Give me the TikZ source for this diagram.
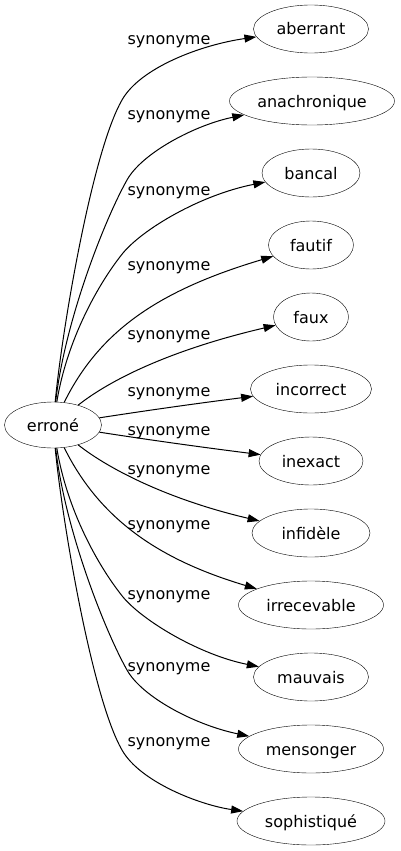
\documentclass[tikz,border=0pt]{standalone}
\usepackage{fontspec}
\setmainfont{DejaVu Sans}
\usetikzlibrary{arrows.meta, shapes.geometric}

\begin{document}
\begin{tikzpicture}[
    x=1pt, y=-1pt,
    word/.style={draw, ellipse, inner sep=0pt, minimum height=48pt, text height=12pt, text depth=0pt, font=\fontsize{16}{19}\selectfont},
    lbl/.style={inner sep=0pt, font=\fontsize{16}{19}\selectfont},
    arr/.style={-{Triangle[length=12pt, width=8pt]}, line width=1pt}
]
\useasboundingbox (0,0) rectangle (401,851);

\node[word, minimum width=97pt, minimum height=46pt] (erron) at (53,425) {erroné};

\node[word, minimum width=115pt] (aberr) at (311,29) {aberrant};
\node[word, minimum width=165pt] (anach) at (312,101) {anachronique};
\node[word, minimum width=98pt] (banca) at (311,173) {bancal};
\node[word, minimum width=85pt] (fauti) at (311,245) {fautif};
\node[word, minimum width=75pt] (faux) at (311,317) {faux};
\node[word, minimum width=121pt] (incor) at (311,389) {incorrect};
\node[word, minimum width=104pt] (inexa) at (311,461) {inexact};
\node[word, minimum width=118pt] (infid) at (311,533) {infidèle};
\node[word, minimum width=145pt] (irrec) at (311,605) {irrecevable};
\node[word, minimum width=115pt] (mauva) at (311,677) {mauvais};
\node[word, minimum width=145pt] (menso) at (311,749) {mensonger};
\node[word, minimum width=148pt] (sophi) at (311,821) {sophistiqué};

% labels
\node[lbl] (s1) at (169,42) {synonyme};
\node[lbl] (s2) at (169,117) {synonyme};
\node[lbl] (s3) at (169,193) {synonyme};
\node[lbl] (s4) at (169,268) {synonyme};
\node[lbl] (s5) at (169,337) {synonyme};
\node[lbl] (s6) at (169,394) {synonyme};
\node[lbl] (s7) at (169,433) {synonyme};
\node[lbl] (s8) at (169,472) {synonyme};
\node[lbl] (s9) at (169,527) {synonyme};
\node[lbl] (s10) at (169,597) {synonyme};
\node[lbl] (s11) at (169,669) {synonyme};
\node[lbl] (s12) at (169,744) {synonyme};

\draw[arr] (erron) .. controls (62,330) and (92,152) .. (122,100) .. controls (140,68) and (200,45) .. (aberr);
\draw[arr] (erron) .. controls (65,320) and (105,219) .. (127,180) .. controls (142,153) and (195,125) .. (anach);
\draw[arr] (erron) .. controls (67,340) and (98,284) .. (123,253) .. controls (143,229) and (200,195) .. (banca);
\draw[arr] (erron) .. controls (100,330) and (160,290) .. (fauti);
\draw[arr] (erron) .. controls (110,380) and (170,350) .. (faux);
\draw[arr] (erron) .. controls (150,410) and (200,403) .. (incor);
\draw[arr] (erron) .. controls (150,440) and (200,447) .. (inexa);
\draw[arr] (erron) .. controls (110,470) and (170,500) .. (infid);
\draw[arr] (erron) .. controls (100,520) and (160,560) .. (irrec);
\draw[arr] (erron) .. controls (67,510) and (98,566) .. (123,597) .. controls (143,621) and (200,655) .. (mauva);
\draw[arr] (erron) .. controls (65,530) and (105,631) .. (127,670) .. controls (142,697) and (195,725) .. (menso);
\draw[arr] (erron) .. controls (62,520) and (92,698) .. (122,750) .. controls (140,782) and (200,805) .. (sophi);
\end{tikzpicture}
\end{document}
